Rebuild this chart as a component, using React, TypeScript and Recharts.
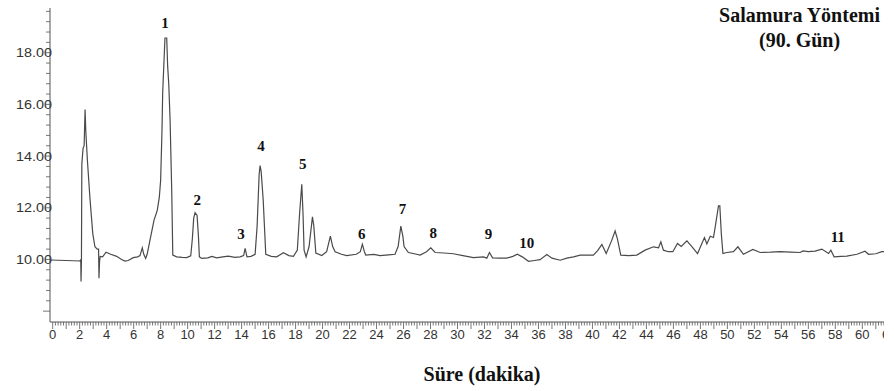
import React from "react";
import { LineChart, Line, XAxis, YAxis, ReferenceDot } from "recharts";

// retention time (min) and detector signal
const times = [
  -0.2, 1.0, 2.0, 2.08, 2.1, 2.13, 2.16, 2.25, 2.33, 2.4, 2.45, 2.57, 2.77, 2.97, 3.13, 3.3, 3.4, 3.43, 3.47, 3.52,
  3.7, 3.95, 4.3, 4.74, 5.1, 5.36, 5.6, 5.97, 6.3, 6.47, 6.64, 6.75, 6.89, 7.0, 7.21, 7.51, 7.75, 7.9, 8.0, 8.1,
  8.15, 8.25, 8.32, 8.45, 8.52, 8.6, 8.7, 8.82, 8.9, 9.19, 9.6, 9.93, 10.23, 10.35, 10.45, 10.55, 10.7, 10.8, 10.87, 11.05,
  11.5, 11.79, 12.16, 12.6, 13.02, 13.5, 13.88, 14.15, 14.26, 14.4, 14.7, 15.0, 15.15, 15.3, 15.37, 15.45, 15.6, 15.79, 16.2, 16.6,
  17.1, 17.5, 17.84, 18.13, 18.3, 18.46, 18.55, 18.63, 18.78, 19.0, 19.25, 19.35, 19.5, 19.94, 20.3, 20.58, 20.75, 20.93, 21.4, 21.79,
  22.5, 22.8, 22.95, 23.1, 23.2, 23.8, 24.26, 24.9, 25.37, 25.6, 25.8, 25.95, 26.04, 26.36, 26.8, 27.23, 27.7, 28.02, 28.34, 29.0,
  29.7, 30.4, 31.18, 31.92, 32.17, 32.37, 32.6, 33.1, 33.65, 34.1, 34.44, 34.8, 35.26, 35.7, 36.12, 36.62, 37.0, 37.61, 38.1, 38.6,
  39.09, 40.07, 40.4, 40.7, 41.02, 41.4, 41.68, 41.85, 42.1, 42.7, 43.29, 43.9, 44.52, 44.9, 45.07, 45.26, 45.63, 45.96, 46.3, 46.58,
  47.0, 47.37, 47.79, 48.3, 48.48, 48.73, 48.97, 49.1, 49.34, 49.44, 49.55, 49.67, 49.96, 50.45, 50.78, 51.19, 51.89, 52.43, 53.2, 53.91,
  54.7, 55.4, 55.6, 55.99, 56.5, 57.0, 57.5, 57.67, 57.91, 58.4, 58.85, 59.6, 60.2, 60.46, 61.0, 61.45, 61.7,
];
const signal = [
  9.98, 9.96, 9.94, 9.98, 9.15, 9.9, 13.7, 14.3, 14.4, 15.8, 15.0, 13.85, 12.3, 11.0, 10.49, 10.4, 10.4, 9.27, 9.9, 10.12,
  10.1, 10.28, 10.2, 10.12, 10.0, 9.94, 9.96, 10.07, 10.1, 10.15, 10.45, 10.2, 10.04, 10.2, 10.75, 11.52, 11.9, 12.4, 13.07, 15.0,
  16.43, 17.7, 18.57, 18.57, 17.47, 16.8, 15.4, 12.69, 10.17, 10.1, 10.08, 10.07, 10.14, 10.8, 11.6, 11.81, 11.7, 10.9, 10.1, 10.04,
  10.06, 10.12, 10.06, 10.1, 10.13, 10.08, 10.1, 10.15, 10.43, 10.1, 10.12, 10.2, 11.3, 13.3, 13.63, 13.4, 12.3, 10.2, 10.12, 10.1,
  10.26, 10.15, 10.12, 10.36, 11.8, 12.91, 11.8, 10.36, 10.1, 10.5, 11.65, 11.3, 10.25, 10.15, 10.3, 10.9, 10.5, 10.3, 10.2, 10.15,
  10.2, 10.3, 10.59, 10.3, 10.17, 10.2, 10.15, 10.18, 10.2, 10.5, 11.29, 10.9, 10.5, 10.27, 10.22, 10.17, 10.3, 10.45, 10.27, 10.25,
  10.22, 10.15, 10.07, 10.1, 10.05, 10.27, 10.06, 10.05, 10.05, 10.12, 10.2, 10.1, 9.93, 9.96, 9.99, 10.19, 10.05, 9.97, 10.05, 10.1,
  10.17, 10.17, 10.35, 10.58, 10.23, 10.7, 11.1, 10.8, 10.17, 10.15, 10.17, 10.36, 10.49, 10.45, 10.68, 10.36, 10.3, 10.3, 10.62, 10.5,
  10.72, 10.5, 10.23, 10.85, 10.6, 10.9, 10.85, 11.26, 12.07, 12.07, 11.0, 10.23, 10.27, 10.3, 10.49, 10.2, 10.39, 10.27, 10.28, 10.3,
  10.28, 10.27, 10.33, 10.3, 10.32, 10.4, 10.23, 10.36, 10.1, 10.12, 10.13, 10.2, 10.32, 10.2, 10.22, 10.3, 10.3,
];

// numbered peaks: label, time and label height
const peakNames = ["1", "2", "3", "4", "5", "6", "7", "8", "9", "10", "11"];
const peakTimes = [8.33, 10.72, 13.96, 15.44, 18.53, 22.9, 25.92, 28.2, 32.29, 35.14, 58.18];
const peakLevels = [19.17, 12.33, 11.0, 14.4, 13.7, 10.98, 11.97, 11.04, 10.98, 10.66, 10.9];

const yLabels = [10, 12, 14, 16, 18];

const trace = times.map((t, i) => ({ t, v: signal[i] }));
const xTicks = Array.from({ length: 312 }, (_, i) => Math.round(i * 2) / 10);
const yTicks = Array.from({ length: 30 }, (_, i) => Math.round(80 + i * 4) / 10);

const AXIS = "#555";
const TXT = "#333";

const XTick = (props: any) => {
  const { x, y, payload } = props;
  const val = payload.value;
  const isInt = Math.abs(val - Math.round(val)) < 0.001;
  const len = isInt ? 7 : 3.5;
  const even = isInt && Math.round(val) % 2 === 0;
  return (
    <g>
      <line x1={x} x2={x} y1={y} y2={y + len} stroke={AXIS} strokeWidth={0.8} />
      {even && (
        <text x={x} y={y + 17} textAnchor="middle" fontSize={13} fill={TXT} fontFamily="Liberation Sans, Arial, sans-serif">
          {Math.round(val)}
        </text>
      )}
    </g>
  );
};

const YTick = (props: any) => {
  const { x, y, payload } = props;
  const val = payload.value;
  const labeled = yLabels.some((l) => Math.abs(l - val) < 0.001);
  const len = Math.abs(val - 8) < 0.001 ? 7 : 4;
  return (
    <g>
      <line x1={x - len} x2={x} y1={y} y2={y} stroke={AXIS} strokeWidth={0.8} />
      {labeled && (
        <text
          x={x + 2}
          y={y + 4.5}
          textAnchor="end"
          fontSize={12.5}
          fill={TXT}
          fontFamily="Liberation Sans, Arial, sans-serif"
          textLength={36}
          lengthAdjust="spacingAndGlyphs"
        >
          {val.toFixed(2)}
        </text>
      )}
    </g>
  );
};

export default function App() {
  return (
    <div style={{ position: "absolute", left: 0, top: 0, width: 884, height: 391, overflow: "hidden", background: "#fff" }}>
      <LineChart width={894} height={391} data={trace} margin={{ top: 8, right: 2, bottom: 44, left: 0 }}>
        <XAxis
          dataKey="t"
          type="number"
          domain={[-0.2, 62.2]}
          ticks={xTicks}
          interval={0}
          tick={<XTick />}
          tickLine={false}
          tickSize={0}
          tickMargin={0}
          height={25}
          axisLine={{ stroke: AXIS }}
          allowDataOverflow
        />
        <YAxis
          type="number"
          domain={[7.58, 19.73]}
          ticks={yTicks}
          interval={0}
          tick={<YTick />}
          tickLine={false}
          tickSize={0}
          tickMargin={0}
          width={50}
          axisLine={{ stroke: AXIS }}
          allowDataOverflow
        />
        <Line type="linear" dataKey="v" stroke="#4a4a4a" strokeWidth={1.2} dot={false} isAnimationActive={false} />
        {peakNames.map((name, i) => (
          <ReferenceDot
            key={name}
            x={peakTimes[i]}
            y={peakLevels[i]}
            r={0}
            fill="none"
            stroke="none"
            label={{
              value: name,
              position: "center",
              fontSize: 15,
              fontWeight: "bold",
              fill: "#111",
              fontFamily: "Liberation Serif, Times New Roman, serif",
            }}
          />
        ))}
      </LineChart>
      <div
        style={{
          position: "absolute",
          right: 4,
          top: 3,
          textAlign: "center",
          fontFamily: "Liberation Serif, Times New Roman, serif",
          fontWeight: "bold",
          fontSize: 20,
          lineHeight: "25px",
          color: "#111",
        }}
      >
        Salamura Yöntemi
        <br />
        (90. Gün)
      </div>
      <div
        style={{
          position: "absolute",
          left: 382,
          width: 200,
          top: 362,
          textAlign: "center",
          fontFamily: "Liberation Serif, Times New Roman, serif",
          fontWeight: "bold",
          fontSize: 20,
          lineHeight: "24px",
          color: "#111",
        }}
      >
        Süre (dakika)
      </div>
    </div>
  );
}
